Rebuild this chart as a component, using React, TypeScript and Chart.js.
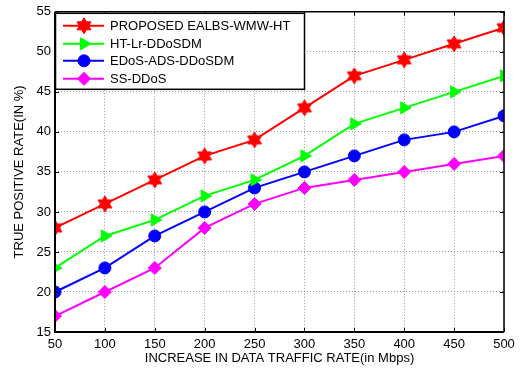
import React, { useEffect, useRef } from 'react';
import { Chart, registerables } from 'chart.js';

Chart.register(...registerables);

const xValues = [50, 100, 150, 200, 250, 300, 350, 400, 450, 500];
const proposed = [28, 31, 34, 37, 39, 43, 47, 49, 51, 53];
const htLr = [23, 27, 29, 32, 34, 37, 41, 43, 45, 47];
const edosAds = [20, 23, 27, 30, 33, 35, 37, 39, 40, 42];
const ssDdos = [17, 20, 23, 28, 31, 33, 34, 35, 36, 37];
const seriesNames = ['PROPOSED EALBS-WMW-HT', 'HT-Lr-DDoSDM', 'EDoS-ADS-DDoSDM', 'SS-DDoS'];
const seriesValues = [proposed, htLr, edosAds, ssDdos];
const seriesColors = ['#ff0000', '#00ff00', '#0000ff', '#ff00ff'];
const seriesMarkers = ['hexagram', 'triangleRight', 'circle', 'diamond'];
const xTitle = 'INCREASE IN DATA TRAFFIC RATE(in Mbps)';
const yTitle = 'TRUE POSITIVE RATE(IN %)';

const FONT = '"Liberation Sans", Arial, Helvetica, sans-serif';
const FS = 13;

function drawHexagram(ctx: CanvasRenderingContext2D, cx: number, cy: number, R: number, color: string) {
  const r = R * 0.58;
  ctx.beginPath();
  for (let i = 0; i < 12; i++) {
    const ang = -Math.PI / 2 + (i * Math.PI) / 6;
    const rad = i % 2 === 0 ? R : r;
    const px = cx + Math.cos(ang) * rad;
    const py = cy + Math.sin(ang) * rad;
    if (i === 0) ctx.moveTo(px, py);
    else ctx.lineTo(px, py);
  }
  ctx.closePath();
  ctx.fillStyle = color;
  ctx.fill();
  ctx.strokeStyle = color;
  ctx.lineWidth = 1;
  ctx.stroke();
}

function makeStarImage(color: string) {
  const c = document.createElement('canvas');
  c.width = 18;
  c.height = 18;
  const ctx = c.getContext('2d')!;
  drawHexagram(ctx, 9, 9, 8, color);
  return c;
}

function drawMarker(ctx: CanvasRenderingContext2D, kind: string, x: number, y: number, color: string) {
  ctx.save();
  ctx.fillStyle = color;
  ctx.strokeStyle = color;
  ctx.lineWidth = 1;
  ctx.setLineDash([]);
  if (kind === 'hexagram') {
    drawHexagram(ctx, x, y, 8, color);
  } else if (kind === 'triangleRight') {
    const R = 7;
    ctx.beginPath();
    for (let i = 0; i < 3; i++) {
      const ang = (i * 2 * Math.PI) / 3;
      const px = x + Math.cos(ang) * R;
      const py = y + Math.sin(ang) * R;
      if (i === 0) ctx.moveTo(px, py);
      else ctx.lineTo(px, py);
    }
    ctx.closePath();
    ctx.fill();
    ctx.stroke();
  } else if (kind === 'circle') {
    ctx.beginPath();
    ctx.arc(x, y, 6, 0, Math.PI * 2);
    ctx.fill();
    ctx.stroke();
  } else if (kind === 'diamond') {
    const R = 6.5;
    ctx.beginPath();
    ctx.moveTo(x, y - R);
    ctx.lineTo(x + R, y);
    ctx.lineTo(x, y + R);
    ctx.lineTo(x - R, y);
    ctx.closePath();
    ctx.fill();
    ctx.stroke();
  }
  ctx.restore();
}

const framePlugin = {
  id: 'matlabFrame',
  afterDraw(chart: any) {
    const { ctx, chartArea } = chart;
    const { left, right, top, bottom } = chartArea;
    const xs = chart.scales.x;
    const ys = chart.scales.y;
    ctx.save();
    ctx.setLineDash([]);
    ctx.strokeStyle = '#000';
    // inward ticks
    ctx.lineWidth = 1;
    ctx.beginPath();
    xs.ticks.forEach((t: any) => {
      const px = Math.round(xs.getPixelForValue(t.value)) + 0.5;
      ctx.moveTo(px, bottom);
      ctx.lineTo(px, bottom - 4);
      ctx.moveTo(px, top);
      ctx.lineTo(px, top + 4);
    });
    ys.ticks.forEach((t: any) => {
      const py = Math.round(ys.getPixelForValue(t.value)) + 0.5;
      ctx.moveTo(left, py);
      ctx.lineTo(left + 4, py);
      ctx.moveTo(right, py);
      ctx.lineTo(right - 4, py);
    });
    ctx.stroke();
    // frame
    ctx.lineWidth = 1.5;
    ctx.beginPath();
    ctx.moveTo(left, top);
    ctx.lineTo(right, top);
    ctx.lineTo(right, bottom);
    ctx.stroke();
    ctx.lineWidth = 2;
    ctx.beginPath();
    ctx.moveTo(left, top);
    ctx.lineTo(left, bottom);
    ctx.lineTo(right, bottom);
    ctx.stroke();

    // legend box
    const bx = left;
    const by = top + 1;
    const bw = 249;
    const bh = 76;
    ctx.fillStyle = '#fff';
    ctx.fillRect(bx, by, bw, bh);
    ctx.lineWidth = 1.5;
    ctx.strokeStyle = '#000';
    ctx.strokeRect(bx + 0.5, by + 0.5, bw, bh);
    const rows = [13, 31, 48, 66];
    ctx.font = `${FS}px ${FONT}`;
    ctx.textBaseline = 'middle';
    ctx.textAlign = 'left';
    seriesNames.forEach((name, i) => {
      const yy = by + rows[i];
      ctx.strokeStyle = seriesColors[i];
      ctx.lineWidth = 2;
      ctx.beginPath();
      ctx.moveTo(bx + 8, yy);
      ctx.lineTo(bx + 49, yy);
      ctx.stroke();
      drawMarker(ctx, seriesMarkers[i], bx + 29, yy, seriesColors[i]);
      ctx.fillStyle = '#000';
      ctx.fillText(name, bx + 55, yy + 1);
    });
    ctx.restore();
  },
};

export default function App() {
  const canvasRef = useRef<HTMLCanvasElement | null>(null);

  useEffect(() => {
    const canvas = canvasRef.current;
    if (!canvas) return;
    const starImg = makeStarImage(seriesColors[0]);

    const pointStyleFor = (kind: string) => {
      if (kind === 'hexagram') return starImg;
      if (kind === 'triangleRight') return 'triangle';
      if (kind === 'circle') return 'circle';
      return 'rectRot';
    };

    const datasets = seriesNames.map((name, i) => ({
      label: name,
      data: xValues.map((x, j) => ({ x, y: seriesValues[i][j] })),
      borderColor: seriesColors[i],
      backgroundColor: seriesColors[i],
      pointBackgroundColor: seriesColors[i],
      pointBorderColor: seriesColors[i],
      borderWidth: 2,
      pointBorderWidth: 1,
      pointStyle: pointStyleFor(seriesMarkers[i]) as any,
      pointRotation: seriesMarkers[i] === 'triangleRight' ? 90 : 0,
      pointRadius: seriesMarkers[i] === 'triangleRight' ? 7 : seriesMarkers[i] === 'diamond' ? 6.5 : 6,
      tension: 0,
      fill: false,
    }));

    const chart = new Chart(canvas, {
      type: 'line',
      data: { datasets },
      options: {
        animation: false,
        responsive: false,
        maintainAspectRatio: false,
        layout: { padding: { top: 10, right: 17, left: 0, bottom: 0 } },
        plugins: {
          legend: { display: false },
          tooltip: { enabled: false },
        },
        scales: {
          x: {
            type: 'linear',
            min: 50,
            max: 500,
            afterFit: (s: any) => {
              s.height = 40;
            },
            ticks: {
              stepSize: 50,
              color: '#000',
              padding: 5,
              maxRotation: 0,
              font: { family: FONT, size: FS },
            },
            grid: { color: '#9a9a9a', lineWidth: 1, drawTicks: false },
            border: { display: false, dash: [1, 2] },
            title: {
              display: true,
              text: xTitle,
              color: '#000',
              font: { family: FONT, size: FS },
              padding: { top: 0, bottom: 6 },
            },
          },
          y: {
            type: 'linear',
            min: 15,
            max: 55,
            afterFit: (s: any) => {
              s.width = 55;
            },
            ticks: {
              stepSize: 5,
              color: '#000',
              padding: 4,
              font: { family: FONT, size: FS },
            },
            grid: { color: '#9a9a9a', lineWidth: 1, drawTicks: false },
            border: { display: false, dash: [1, 2] },
            title: {
              display: true,
              text: yTitle,
              color: '#000',
              font: { family: FONT, size: FS },
              padding: { top: 12, bottom: 0 },
            },
          },
        },
      },
      plugins: [framePlugin],
    });

    return () => chart.destroy();
  }, []);

  return (
    <div style={{ position: 'fixed', left: 0, top: 0, width: 521, height: 372, background: '#fff' }}>
      <canvas ref={canvasRef} width={521} height={372} style={{ display: 'block' }} />
    </div>
  );
}
